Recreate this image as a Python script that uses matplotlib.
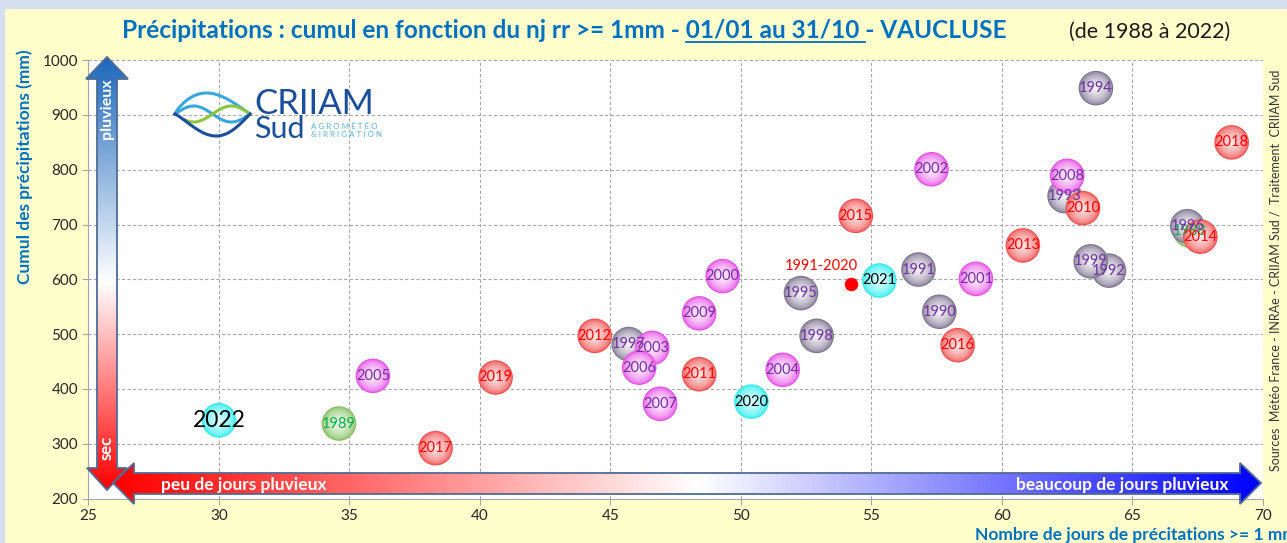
import numpy as np
import matplotlib
matplotlib.use("Agg")
import matplotlib.pyplot as plt
from matplotlib.colors import LinearSegmentedColormap, to_rgb
from matplotlib.patches import Polygon, Rectangle

plt.rcParams['font.family'] = ['Lato', 'DejaVu Sans']

W, H = 1287, 543

# --- data ---
years = [1988, 1989,
         1990, 1991, 1992, 1993, 1994, 1995, 1996, 1997, 1998, 1999,
         2000, 2001, 2002, 2003, 2004, 2005, 2006, 2007, 2008, 2009,
         2010, 2011, 2012, 2013, 2014, 2015, 2016, 2017, 2018, 2019,
         2020, 2021, 2022]
nb_jours = [67.2, 34.6,
            57.6, 56.8, 64.1, 62.4, 63.6, 52.3, 67.1, 45.7, 52.9, 63.4,
            49.3, 59.0, 57.3, 46.6, 51.6, 35.9, 46.1, 46.9, 62.5, 48.4,
            63.1, 48.4, 44.4, 60.8, 67.6, 54.4, 58.3, 38.3, 68.8, 40.6,
            50.4, 55.3, 30.0]
cumul = [689, 337,
         541, 618, 616, 752, 949, 575, 697, 482, 497, 633,
         606, 601, 801, 475, 435, 424, 439, 373, 789, 538,
         730, 427, 497, 662, 678, 716, 480, 292, 850, 421,
         377, 598, 343]

normale_label = "1991-2020"
normale_jours = 54.2
normale_cumul = 591

x_ticks = [25, 30, 35, 40, 45, 50, 55, 60, 65, 70]
y_ticks = [200, 300, 400, 500, 600, 700, 800, 900, 1000]

# colours per decade: (bubble rim, bubble centre, label colour)
styles = {
    '1980': ('#84be5e', '#f0f9ea', '#00b050'),
    '1990': ('#7c748e', '#f4f2f7', '#7030a0'),
    '2000': ('#e64ee6', '#fff0ff', '#7030a0'),
    '2010': ('#ef4f4f', '#ffe6e6', '#ff0000'),
    '2020': ('#2eecec', '#dcffff', '#000000'),
}


def decade(y):
    return str(y // 10 * 10)


fig = plt.figure(figsize=(W / 100, H / 100), dpi=100)
fig.patch.set_facecolor('#d5dff1')
fig.patches.append(Rectangle((5 / W, 0), 1, (H - 9) / H, transform=fig.transFigure,
                             facecolor='#ffffcc', edgecolor='none', zorder=-5))

# main axes, pixel box 88..1263 x 60..499
ax = fig.add_axes([88.4 / W, (H - 498.6) / H, (1263 - 88.4) / W, (498.6 - 60.2) / H], zorder=1)
ax.set_facecolor('white')
ax.set_xlim(25, 70)
ax.set_ylim(200, 1000)
ax.set_xticks(x_ticks)
ax.set_yticks(y_ticks)
ax.grid(True, color='#a6a6a6', linestyle=(0, (3, 2)), linewidth=0.8)
ax.set_axisbelow(True)
for side in ['top', 'right']:
    ax.spines[side].set_visible(False)
for side in ['left', 'bottom']:
    ax.spines[side].set_color('#a6a6a6')
ax.tick_params(colors='#a6a6a6', labelcolor='#262626', labelsize=11, length=4)


def bubble(x, y, rim, centre, s=620, n=16):
    e = np.array(to_rgb(rim))
    c = np.array(to_rgb(centre))
    t = np.linspace(0, 1, n)
    cols = e + (c - e) * (t ** 0.55)[:, None]
    sizes = s * (1 - 0.93 * t) ** 2
    ax.scatter(np.full(n, x), np.full(n, y), s=sizes, c=cols, linewidths=0, zorder=3)


order = sorted(range(len(years)), key=lambda i: (decade(years[i]), years[i]))
for i in order:
    rim, centre, _ = styles[decade(years[i])]
    bubble(nb_jours[i], cumul[i], rim, centre)

for i in order:
    _, _, tcol = styles[decade(years[i])]
    size = 16.5 if years[i] == 2022 else 10.5
    ax.text(nb_jours[i], cumul[i], str(years[i]), color=tcol, fontsize=size,
            ha='center', va='center', zorder=4)

ax.scatter([normale_jours], [normale_cumul], s=95, color='#ff0000', zorder=4, linewidths=0)
ax.annotate(normale_label, (normale_jours, normale_cumul), xytext=(-21, 13),
            textcoords='offset points', color='#ff0000', fontsize=10.5,
            ha='center', va='center', zorder=4)

# --- overlay in pixel coordinates for arrows, logo and texts ---
ov = fig.add_axes([0, 0, 1, 1], zorder=2)
ov.patch.set_alpha(0)
ov.axis('off')


def gradient_arrow(poly, stops, extent, vertical):
    cmap = LinearSegmentedColormap.from_list('g', stops)
    g = np.linspace(0, 1, 300)
    img = g[:, None] if vertical else g[None, :]
    im = ov.imshow(img, cmap=cmap, extent=extent, aspect='auto', origin='upper',
                   interpolation='bilinear', zorder=1)
    p = Polygon(poly, closed=True, facecolor='none', edgecolor='#4f6c94', lw=1.3, zorder=2)
    ov.add_patch(p)
    im.set_clip_path(p)


v_arrow = [(107, 57), (128, 79), (117, 79), (117, 468), (127, 468), (107, 490),
           (87, 468), (97, 468), (97, 79), (86, 79)]
gradient_arrow(v_arrow, [(0, '#1d68bc'), (0.52, '#ffffff'), (1, '#ff0000')],
               (86, 128, 490, 57), True)

h_arrow = [(113, 483), (134, 463), (134, 473), (1240, 473), (1240, 463), (1261, 483),
           (1240, 504), (1240, 494), (134, 494), (134, 504)]
gradient_arrow(h_arrow, [(0, '#ff0000'), (0.51, '#ffffff'), (1, '#0000ff')],
               (113, 1261, 504, 463), False)

ov.text(107, 109, "pluvieux", rotation=90, color='white', fontweight='bold',
        fontsize=11.5, ha='center', va='center', zorder=3)
ov.text(107, 448, "sec", rotation=90, color='white', fontweight='bold',
        fontsize=12, ha='center', va='center', zorder=3)
ov.text(161, 485, "peu de jours pluvieux", color='white', fontweight='bold',
        fontsize=12.5, ha='left', va='center', zorder=3)
ov.text(1228, 485, "beaucoup de jours pluvieux", color='white', fontweight='bold',
        fontsize=12.5, ha='right', va='center', zorder=3)

# logo
t = np.linspace(0, 1, 100)
lx = 175 + 75 * t
ov.plot(lx, 114 - 21 * np.sin(np.pi * t ** 0.8), color='#3aa6df', lw=2.2, zorder=3)
ov.plot(lx, 114 - 8 * np.sin(2 * np.pi * t), color='#3aa6df', lw=2.2, zorder=3)
tg = np.linspace(0.12, 1, 80)
ov.plot(175 + 75 * tg, 114 + 8 * np.sin(2 * np.pi * tg), color='#8cc63f', lw=2.2, zorder=3)
ov.plot(lx, 114 + 22 * np.sin(np.pi * t ** 1.15), color='#1b4f9c', lw=2.2, zorder=3)
ov.text(254, 114, "CRIIAM", color='#1b4f9c', fontsize=25, ha='left', va='baseline', zorder=3)
ov.text(254, 138, "Sud", color='#1b4f9c', fontsize=22, ha='left', va='baseline', zorder=3)
ov.text(311, 129, "A G R O M É T É O", color='#5bb4e5', fontsize=5.8, ha='left', va='baseline', zorder=3)
ov.text(311, 137, "& I R R I G A T I O N", color='#5bb4e5', fontsize=5.8, ha='left', va='baseline', zorder=3)

# titles and axis names
ov.text(25, 167, "Cumul des précipitations (mm)", rotation=90, color='#0070c0',
        fontweight='bold', fontsize=12.5, ha='center', va='center')
ov.text(975, 535, "Nombre de jours de précitations >= 1 mm", color='#0070c0',
        fontweight='bold', fontsize=12.5, ha='left', va='center')
ov.text(1275, 270, "Sources  Météo France - INRAe - CRIIAM Sud /  Traitement  CRIIAM Sud",
        rotation=90, color='#333333', fontsize=9, ha='center', va='center')
ov.text(1069, 38, "(de 1988 à 2022)", color='#1a1a1a', fontsize=15.5, ha='left', va='baseline')

renderer = fig.canvas.get_renderer()
part1 = "Précipitations : cumul en fonction du nj rr >= 1mm - "
part2 = "01/01 au 31/10 "
part3 = "- VAUCLUSE"


def width(s, size):
    a = ov.text(0, 0, s + "|", fontsize=size, fontweight='bold')
    b = ov.text(0, 0, "|", fontsize=size, fontweight='bold')
    w = a.get_window_extent(renderer).width - b.get_window_extent(renderer).width
    a.remove()
    b.remove()
    return w


size = 15 * 886 / width(part1 + part2 + part3, 15)
x0 = 122
ov.text(x0, 38, part1 + part2 + part3, color='#0070c0', fontweight='bold',
        fontsize=size, ha='left', va='baseline')
u0 = x0 + width(part1, size)
u1 = x0 + width(part1 + part2, size)
ov.plot([u0, u1], [42, 42], color='#0070c0', lw=1.3)

ov.set_xlim(0, W)
ov.set_ylim(H, 0)

fig.savefig("out.png", dpi=100, facecolor=fig.get_facecolor())
